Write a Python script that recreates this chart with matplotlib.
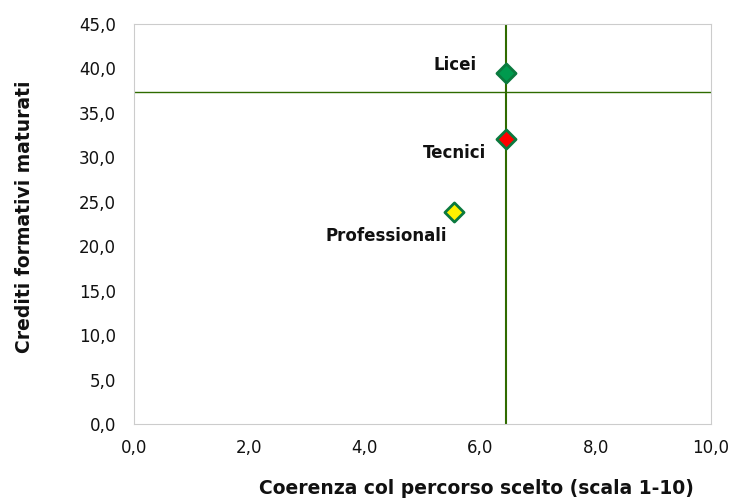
import matplotlib
matplotlib.use("Agg")
import matplotlib.pyplot as plt
from matplotlib.ticker import FuncFormatter

# Dati
categorie = ["Licei", "Tecnici", "Professionali"]
coerenza = [6.45, 6.45, 5.55]
crediti = [39.5, 32.1, 23.9]
colori = ["#009A4E", "#FF0000", "#FFF200"]
media_x = 6.45
media_y = 37.3
offset_etichette = [(-51, 8), (-52, -14), (-68, -24)]

fig = plt.figure(figsize=(7.34, 4.99), dpi=100)
ax = fig.add_axes([0.1826, 0.1503, 0.7861, 0.8016])

ax.axvline(media_x, color="#2F6B00", lw=1.5, zorder=1)
ax.axhline(media_y, color="#2F6B00", lw=1.0, zorder=1)

for nome, x, y, c, off in zip(categorie, coerenza, crediti, colori, offset_etichette):
    ax.scatter(x, y, marker="D", s=95, facecolor=c, edgecolor="#0B7A3E",
               linewidth=2, zorder=3)
    ax.annotate(nome, (x, y), xytext=off, textcoords="offset pixels",
                ha="center", va="center", fontsize=12, fontweight="bold",
                color="#111111")

ax.set_xlim(0, 10)
ax.set_ylim(0, 45)
ax.set_xticks([0, 2, 4, 6, 8, 10])
ax.set_yticks(range(0, 46, 5))
fmt = FuncFormatter(lambda v, p: f"{v:.1f}".replace(".", ","))
ax.xaxis.set_major_formatter(fmt)
ax.yaxis.set_major_formatter(fmt)
ax.tick_params(length=0, labelsize=12, colors="#111111")
ax.tick_params(axis="y", pad=13)
ax.tick_params(axis="x", pad=11)
for s in ax.spines.values():
    s.set_color("#CCCCCC")

ax.set_xlabel("Coerenza col percorso scelto (scala 1-10)", fontsize=13.5,
              fontweight="bold", color="#111111")
ax.set_ylabel("Crediti formativi maturati", fontsize=13.5,
              fontweight="bold", color="#111111")
ax.xaxis.set_label_coords(0.593, -0.16)
ax.xaxis.label.set_va("center")
ax.yaxis.set_label_coords(-0.189, 0.5175)
ax.yaxis.label.set_va("center")

fig.savefig("out.png", dpi=100)
